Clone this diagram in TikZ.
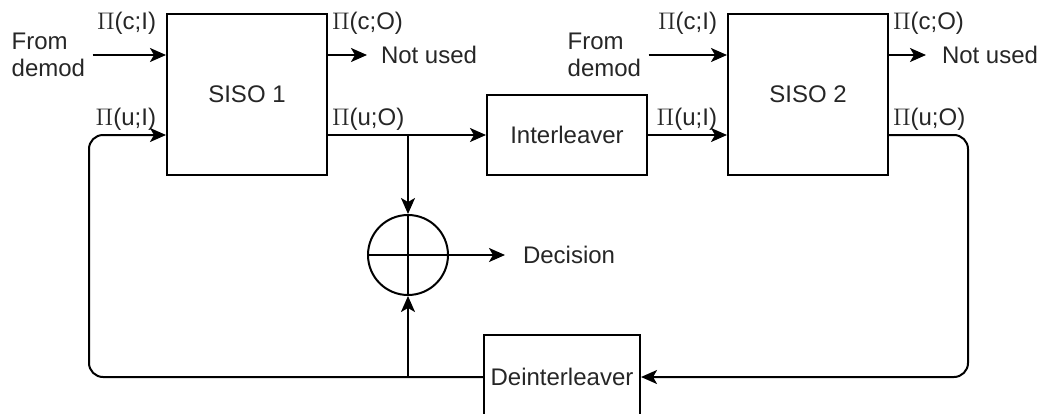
\documentclass[tikz,border=0pt]{standalone}
\usepackage{fontspec}
\setmainfont{Liberation Sans}
\usetikzlibrary{arrows.meta}

\begin{document}
\begin{tikzpicture}[x=0.5pt, y=-0.5pt, line width=1pt,
  every node/.style={font=\fontsize{12}{13.5}\selectfont, text=black!85},
  block/.style={draw, rectangle, minimum width=80pt, minimum height=80.5pt},
  arr/.style={-{Stealth[length=8pt,width=7pt,inset=2pt]}},
  port/.style={inner sep=1pt}]
\useasboundingbox (0,0) rectangle (1040,413);

% Decoders and interleavers
\node[block] (siso1) at (247,94.5) {SISO 1};
\node[block] (siso2) at (808,94.5) {SISO 2};
\node[block, minimum height=40pt] (il) at (567,135) {Interleaver};
\node[block, minimum width=76pt, minimum height=42pt] (dein) at (562,377) {Deinterleaver};
\node[draw, circle, minimum size=40pt, inner sep=0pt] (sum) at (408,255) {};
\draw (sum.north) -- (sum.south) (sum.west) -- (sum.east);

% Outside inputs and outputs
\node[anchor=west, align=left] (fd1) at (4,55) {From\\demod};
\node[anchor=west, align=left] (fd2) at (560,55) {From\\demod};
\node[anchor=west, inner xsep=6.5pt] (nu1) at (367,55) {Not used};
\node[anchor=west, inner xsep=7.5pt] (nu2) at (926,55) {Not used};
\node[anchor=west, inner xsep=8.5pt] (dec) at (505,255) {Decision};

% Port labels
\node[port, anchor=east] (p1ci) at (159,23) {$\Pi$(c;I)};
\node[port, anchor=east] (p1ui) at (159,119) {$\Pi$(u;I)};
\node[port, anchor=west] (p1co) at (329,23) {$\Pi$(c;O)};
\node[port, anchor=west] (p1uo) at (329,119) {$\Pi$(u;O)};
\node[port, anchor=east] (p2ci) at (720,23) {$\Pi$(c;I)};
\node[port, anchor=east] (p2ui) at (720,119) {$\Pi$(u;I)};
\node[port, anchor=west] (p2co) at (890,23) {$\Pi$(c;O)};
\node[port, anchor=west] (p2uo) at (890,119) {$\Pi$(u;O)};

\coordinate (br) at (408,135);
\coordinate (lc) at (89,135);
\coordinate (rc) at (968,135);

% Connections
\draw[arr] (fd1.east) -- (fd1.east -| siso1.west);
\draw[arr] (fd2.east) -- (fd2.east -| siso2.west);
\draw[arr] (nu1.west -| siso1.east) -- (nu1.west);
\draw[arr] (nu2.west -| siso2.east) -- (nu2.west);
\draw[arr] (siso1.east |- il.west) -- (il.west);
\draw[arr] (br) -- (sum.north);
\draw[arr] (sum.east) -- (dec.west);
\draw[arr] (il.east) -- (il.east -| siso2.west);
\draw[arr, rounded corners=7pt] (siso2.east |- il.east) -- (rc) -- (rc |- dein.east) -- (dein.east);
\draw[arr, rounded corners=7pt] (dein.west) -- (lc |- dein.west) -- (lc) -- (lc -| siso1.west);
\draw[arr] (sum |- dein.west) -- (sum.south);
\end{tikzpicture}
\end{document}
